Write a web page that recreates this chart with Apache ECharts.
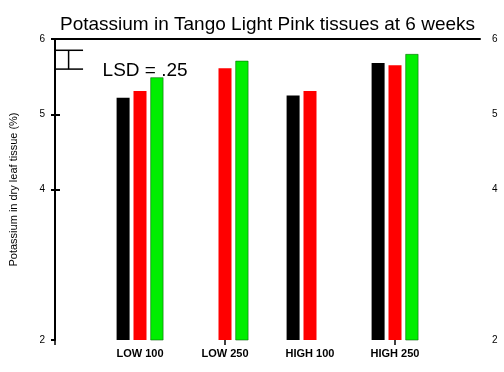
<!DOCTYPE html>
<html>
<head>
<meta charset="utf-8">
<script src="https://cdn.jsdelivr.net/npm/echarts@6/dist/echarts.min.js"></script>
<style>
  html, body { margin: 0; padding: 0; background: #fff; }
  #chart { width: 504px; height: 372px; }
</style>
</head>
<body>
<div id="chart"></div>
<script>
// ---- data ----
const categories = ['LOW 100', 'LOW 250', 'HIGH 100', 'HIGH 250'];
const categoryPositions = [1, 2, 3, 4];
const seriesBlack = [5.22, null, 5.25, 5.68];
const seriesRed = [5.31, 5.61, 5.31, 5.65];
const seriesGreen = [5.49, 5.71, null, 5.80];
const yTickValues = [2, 4, 5, 6];
const yTickLabels = ['2', '4', '5', '6'];
const lsdValue = 0.25;
const lsdTop = 5.85;
const lsdX = 0.16;
const lsdCapEnd = 0.33;
const lsdLabel = 'LSD = .25';
const lsdLabelPos = [0.56, 5.575];

const FONT = "'Liberation Sans', Arial, sans-serif";

function pairs(values) {
  return categoryPositions.map((x, i) => [x, values[i]]).filter(p => p[1] !== null);
}

const chart = echarts.init(document.getElementById('chart'), null, { renderer: 'canvas' });

const yLabelFormatter = v => {
  const i = yTickValues.indexOf(v);
  return i >= 0 ? yTickLabels[i] : '';
};

const option = {
  backgroundColor: '#fff',
  animation: false,
  title: {
    text: 'Potassium in Tango Light Pink tissues at 6 weeks',
    left: 55,
    top: 10,
    textStyle: { fontFamily: FONT, fontSize: 19, fontWeight: 'normal', color: '#000' }
  },
  grid: { left: 52, right: 24, top: 39, bottom: 32 },
  xAxis: [
    {
      type: 'value', min: 0, max: 5, position: 'bottom',
      splitLine: { show: false },
      axisLine: { show: false },
      axisTick: { show: true, length: 5, customValues: [0, 2, 4], lineStyle: { color: '#000', width: 1.5 } },
      axisLabel: {
        customValues: categoryPositions,
        formatter: v => categories[categoryPositions.indexOf(v)] || '',
        fontFamily: FONT, fontSize: 11, fontWeight: 'bold', color: '#000', margin: 8
      }
    },
    {
      type: 'value', min: 0, max: 5, position: 'top',
      splitLine: { show: false },
      axisLine: { show: true, lineStyle: { color: '#000', width: 2 } },
      axisTick: { show: false },
      axisLabel: { show: false }
    }
  ],
  yAxis: [
    {
      type: 'value', min: 2, max: 6, position: 'left',
      name: 'Potassium in dry leaf tissue (%)',
      nameLocation: 'middle', nameGap: 36, nameRotate: 90,
      nameTextStyle: { fontFamily: FONT, fontSize: 11, color: '#000' },
      splitLine: { show: false },
      axisLine: { show: true, lineStyle: { color: '#000', width: 2 } },
      axisTick: { show: true, length: 4, customValues: yTickValues, lineStyle: { color: '#000', width: 2 } },
      axisLabel: { customValues: yTickValues, formatter: yLabelFormatter, fontFamily: FONT, fontSize: 10, color: '#000', margin: 10 }
    },
    {
      type: 'value', min: 2, max: 6, position: 'right',
      splitLine: { show: false },
      axisLine: { show: false },
      axisTick: { show: true, length: 5, customValues: [4, 5, 6], lineStyle: { color: '#000', width: 2 } },
      axisLabel: { customValues: yTickValues, formatter: yLabelFormatter, fontFamily: FONT, fontSize: 10, color: '#000', margin: 12 }
    },
    {
      type: 'value', min: 2, max: 6, position: 'left',
      splitLine: { show: false },
      axisLine: { show: false },
      axisTick: { show: true, inside: true, length: 4, customValues: [4, 5], lineStyle: { color: '#000', width: 2 } },
      axisLabel: { show: false }
    }
  ],
  series: [
    {
      type: 'bar', name: 'black', data: pairs(seriesBlack),
      barWidth: 13, barGap: '30%',
      itemStyle: { color: '#000000' }
    },
    {
      type: 'bar', name: 'red', data: pairs(seriesRed),
      barWidth: 13, barGap: '30%',
      itemStyle: { color: '#ff0000' }
    },
    {
      type: 'bar', name: 'green', data: pairs(seriesGreen),
      barWidth: 13, barGap: '30%',
      itemStyle: { color: '#00ee00', borderColor: '#0a6a0a', borderWidth: 0.6 }
    },
    {
      type: 'custom',
      clip: false,
      silent: true,
      data: [[lsdX, lsdTop, lsdTop - lsdValue, lsdCapEnd]],
      encode: { x: [0, 3], y: [1, 2] },
      renderItem: function (params, api) {
        const x = api.value(0), top = api.value(1), bot = api.value(2), capEnd = api.value(3);
        const pTop = api.coord([x, top]);
        const pBot = api.coord([x, bot]);
        const leftTop = api.coord([0, top]);
        const rightTop = api.coord([capEnd, top]);
        const leftBot = api.coord([0, bot]);
        const rightBot = api.coord([capEnd, bot]);
        const tp = api.coord(lsdLabelPos);
        const st = { stroke: '#000', lineWidth: 1.5 };
        return {
          type: 'group',
          children: [
            { type: 'line', shape: { x1: pTop[0], y1: pTop[1], x2: pBot[0], y2: pBot[1] }, style: st },
            { type: 'line', shape: { x1: leftTop[0], y1: leftTop[1], x2: rightTop[0], y2: rightTop[1] }, style: st },
            { type: 'line', shape: { x1: leftBot[0], y1: leftBot[1], x2: rightBot[0], y2: rightBot[1] }, style: st },
            { type: 'text', x: tp[0], y: tp[1], style: { text: lsdLabel, fill: '#000', font: '19px ' + FONT, textAlign: 'left', textVerticalAlign: 'middle' } }
          ]
        };
      }
    }
  ]
};

chart.setOption(option);
</script>
</body>
</html>
